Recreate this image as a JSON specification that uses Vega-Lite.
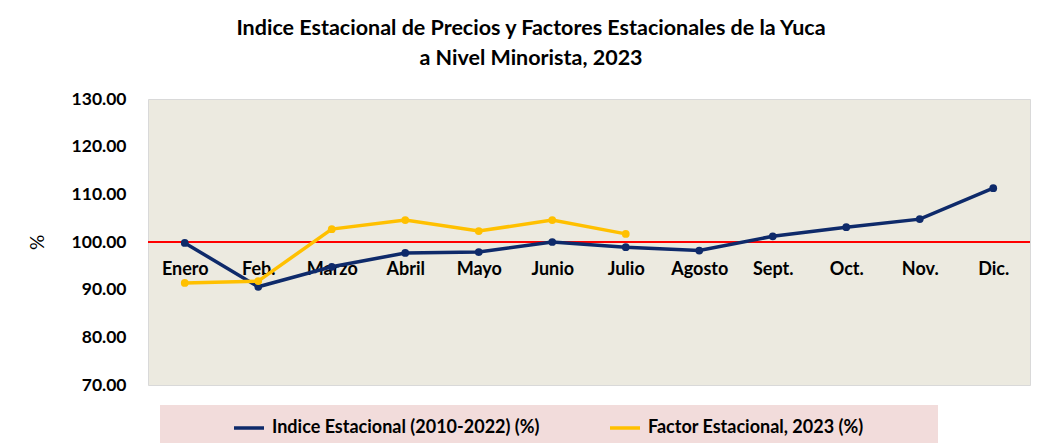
{
  "$schema": "https://vega.github.io/schema/vega-lite/v6.json",
  "width": 882,
  "height": 286,
  "autosize": {"type": "none"},
  "padding": {"left": 148, "top": 99, "right": 7, "bottom": 63},
  "background": "white",
  "title": {
    "text": ["Indice Estacional de Precios y Factores Estacionales de la Yuca", "a Nivel Minorista, 2023"],
    "font": "Lato",
    "fontSize": 21.5,
    "fontWeight": "bold",
    "color": "#000000",
    "lineHeight": 30,
    "anchor": "middle",
    "offset": 21,
    "dx": -58
  },
  "data": {
    "values": [
      {"mes": "Enero", "serie": "Indice Estacional (2010-2022) (%)", "valor": 99.8},
      {"mes": "Feb.", "serie": "Indice Estacional (2010-2022) (%)", "valor": 90.6},
      {"mes": "Marzo", "serie": "Indice Estacional (2010-2022) (%)", "valor": 94.8},
      {"mes": "Abril", "serie": "Indice Estacional (2010-2022) (%)", "valor": 97.7},
      {"mes": "Mayo", "serie": "Indice Estacional (2010-2022) (%)", "valor": 97.9},
      {"mes": "Junio", "serie": "Indice Estacional (2010-2022) (%)", "valor": 100.0},
      {"mes": "Julio", "serie": "Indice Estacional (2010-2022) (%)", "valor": 98.9},
      {"mes": "Agosto", "serie": "Indice Estacional (2010-2022) (%)", "valor": 98.2},
      {"mes": "Sept.", "serie": "Indice Estacional (2010-2022) (%)", "valor": 101.2},
      {"mes": "Oct.", "serie": "Indice Estacional (2010-2022) (%)", "valor": 103.1},
      {"mes": "Nov.", "serie": "Indice Estacional (2010-2022) (%)", "valor": 104.8},
      {"mes": "Dic.", "serie": "Indice Estacional (2010-2022) (%)", "valor": 111.3},
      {"mes": "Enero", "serie": "Factor Estacional, 2023 (%)", "valor": 91.4},
      {"mes": "Feb.", "serie": "Factor Estacional, 2023 (%)", "valor": 91.8},
      {"mes": "Marzo", "serie": "Factor Estacional, 2023 (%)", "valor": 102.7},
      {"mes": "Abril", "serie": "Factor Estacional, 2023 (%)", "valor": 104.6},
      {"mes": "Mayo", "serie": "Factor Estacional, 2023 (%)", "valor": 102.3},
      {"mes": "Junio", "serie": "Factor Estacional, 2023 (%)", "valor": 104.6},
      {"mes": "Julio", "serie": "Factor Estacional, 2023 (%)", "valor": 101.7}
    ]
  },
  "layer": [
    {
      "mark": {"type": "rule", "color": "#FF0000", "strokeWidth": 2},
      "encoding": {"y": {"datum": 100, "type": "quantitative"}}
    },
    {
      "mark": {"type": "line", "strokeWidth": 3.5, "point": {"filled": true, "size": 60}},
      "encoding": {
        "x": {
          "field": "mes",
          "type": "ordinal",
          "sort": ["Enero", "Feb.", "Marzo", "Abril", "Mayo", "Junio", "Julio", "Agosto", "Sept.", "Oct.", "Nov.", "Dic."],
          "scale": {"type": "point", "padding": 0.5},
          "axis": {
            "title": null,
            "orient": "bottom",
            "offset": -143,
            "domain": false,
            "ticks": false,
            "grid": false,
            "labelAngle": 0,
            "labelPadding": 18,
            "labelFont": "Lato",
            "labelFontSize": 18,
            "labelFontWeight": "bold",
            "labelColor": "#000000"
          }
        },
        "y": {
          "field": "valor",
          "type": "quantitative",
          "scale": {"domain": [70, 130], "nice": false, "zero": false},
          "axis": {
            "title": "%",
            "titleFont": "Lato",
            "titleFontSize": 19,
            "titleFontWeight": "normal",
            "titleColor": "#000000",
            "titlePadding": 24,
            "values": [70, 80, 90, 100, 110, 120, 130],
            "format": ".2f",
            "domain": false,
            "ticks": false,
            "labelPadding": 22,
            "labelFont": "Lato",
            "labelFontSize": 17.5,
            "labelFontWeight": "bold",
            "labelColor": "#000000",
            "gridColor": "#D9D9D9",
            "gridWidth": 1.5
          }
        },
        "color": {
          "field": "serie",
          "type": "nominal",
          "scale": {
            "domain": ["Indice Estacional (2010-2022) (%)", "Factor Estacional, 2023 (%)"],
            "range": ["#0E2A6A", "#FFC000"]
          },
          "legend": {
            "title": " ",
            "titleOrient": "right",
            "titlePadding": 68,
            "titleFontSize": 4,
            "orient": "none",
            "legendX": 12,
            "legendY": 306,
            "direction": "horizontal",
            "columns": 2,
            "gridAlign": "all",
            "fillColor": "#F2DCDB",
            "padding": 6,
            "symbolType": "stroke",
            "symbolStrokeWidth": 3.5,
            "symbolSize": 900,
            "symbolOffset": 66,
            "labelOffset": 6,
            "columnPadding": 2,
            "labelFont": "Lato",
            "labelFontSize": 18,
            "labelFontWeight": "bold",
            "labelColor": "#000000",
            "labelLimit": 400
          }
        }
      }
    }
  ],
  "config": {
    "view": {"fill": "#ECEAE0", "stroke": "#D9D9D9"}
  }
}
